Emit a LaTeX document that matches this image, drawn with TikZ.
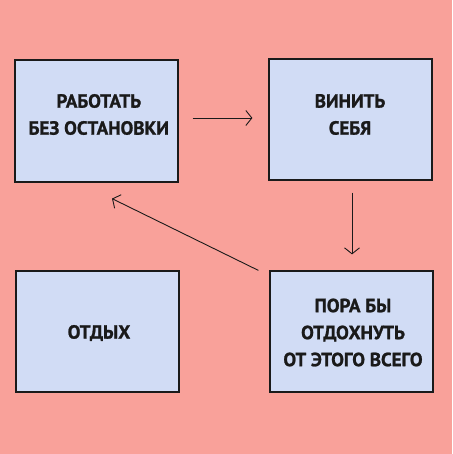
\documentclass[tikz,border=0pt]{standalone}
\usepackage{fontspec}
\setmainfont{PT Sans}[BoldFeatures={FakeBold=1.2}]
\usetikzlibrary{arrows.meta}
\definecolor{bg}{HTML}{F9A19A}
\definecolor{boxfill}{HTML}{D1DCF5}
\definecolor{ink}{HTML}{1A1A1A}
\tikzset{
  box/.style={draw=ink, fill=boxfill, line width=1.2pt, minimum width=163pt, minimum height=121pt, inner sep=0pt},
  lbl/.style={font=\bfseries\fontsize{19}{27}\selectfont, align=center, text=ink, inner sep=0pt},
  arr/.style={draw=ink, line width=0.9pt, -{Straight Barb[length=6pt,width=15pt,line width=0.9pt]}}
}
\begin{document}
\begin{tikzpicture}[x=1pt,y=-1pt]
\fill[bg] (0,0) rectangle (452,454);
\useasboundingbox (0,0) rectangle (452,454);
\node[box, minimum height=122pt] (b1) at (96.5,121) {};
\node[box] (b2) at (350.5,119.5) {};
\node[box] (b3) at (97.5,331.5) {};
\node[box] (b4) at (351.5,331.5) {};
\node[lbl] (t1) at (98.8,114.5) {РАБОТАТЬ\\БЕЗ ОСТАНОВКИ};
\node[lbl] (t2) at (350,114.5) {ВИНИТЬ\\СЕБЯ};
\node[lbl] (t3) at (99,333) {ОТДЫХ};
\node[lbl] (t4) at (353,332.5) {ПОРА БЫ\\ОТДОХНУТЬ\\ОТ ЭТОГО ВСЕГО};
\draw[arr] ([xshift=14pt,yshift=3pt]b1.east) -- ([xshift=-16pt,yshift=1.5pt]b2.west);
\draw[arr] ([xshift=1.5pt,yshift=-12pt]b2.south) -- ([xshift=0.5pt,yshift=16pt]b4.north);
\draw[arr] ([xshift=-11pt]b4.north west) -- ([xshift=15.5pt,yshift=-16pt]b1.south);
\end{tikzpicture}
\end{document}
